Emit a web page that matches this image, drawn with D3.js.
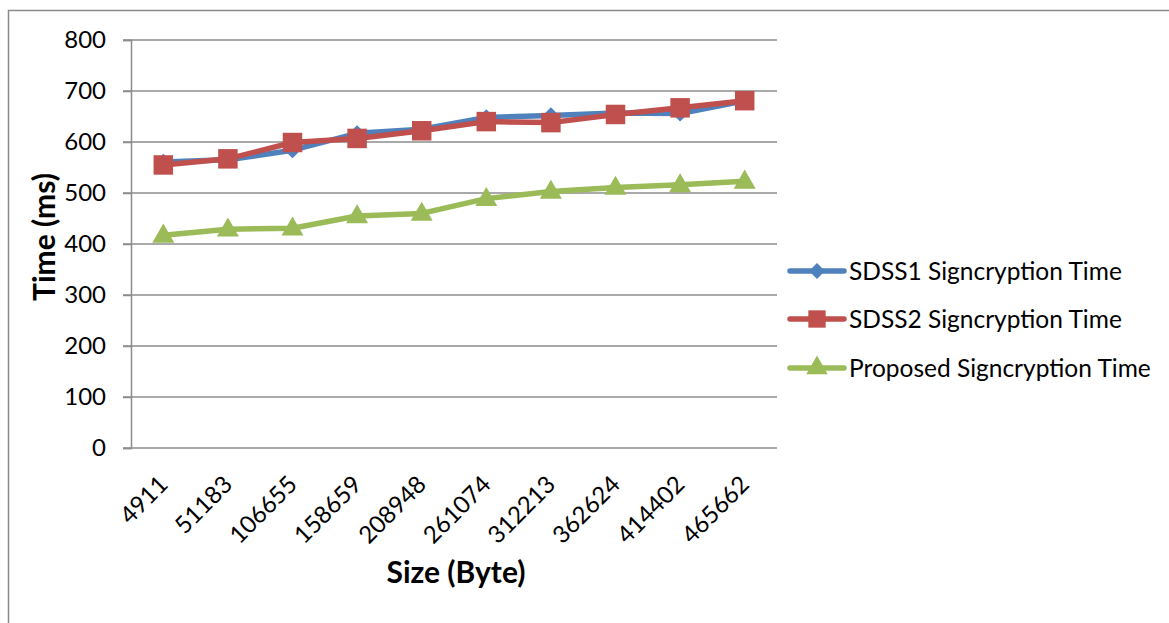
<!DOCTYPE html>
<html>
<head>
<meta charset="utf-8">
<script src="https://cdn.jsdelivr.net/npm/d3@7/dist/d3.min.js"></script>
<style>
  html, body { margin: 0; padding: 0; background: #fff; }
  svg { display: block; }
  text { font-family: Lato, "Open Sans", sans-serif; fill: #000; }
</style>
</head>
<body>
<svg id="chart" width="1169" height="623"></svg>
<script>
// Message sizes (bytes) on the category axis
const sizes = ["4911", "51183", "106655", "158659", "208948", "261074", "312213", "362624", "414402", "465662"];

// Signcryption times in milliseconds
const sdss1 = [561, 565, 584, 617, 625, 648, 652, 657, 656, 681];
const sdss2 = [555, 567, 599, 607, 622, 640, 638, 654, 667, 681];
const proposed = [417, 429, 431, 455, 460, 489, 503, 511, 516, 523];

const seriesNames = ["SDSS1 Signcryption Time", "SDSS2 Signcryption Time", "Proposed Signcryption Time"];
const yTicks = [0, 100, 200, 300, 400, 500, 600, 700, 800];

const series = [
  { name: seriesNames[0], values: sdss1, color: "#4F81BD", marker: "diamond" },
  { name: seriesNames[1], values: sdss2, color: "#C0504D", marker: "square" },
  { name: seriesNames[2], values: proposed, color: "#9BBB59", marker: "triangle" }
];

const svg = d3.select("#chart");
const plot = { left: 131, right: 777, top: 40, bottom: 448 };

// Outer chart frame
svg.append("rect")
  .attr("x", 8.5).attr("y", 10.5)
  .attr("width", 1300).attr("height", 800)
  .attr("fill", "none").attr("stroke", "#8a8a8a").attr("stroke-width", 1.5);

const x = d3.scaleBand().domain(sizes).range([plot.left, plot.right]);
const y = d3.scaleLinear().domain([0, 800]).range([plot.bottom, plot.top]);

// Horizontal gridlines
svg.append("g")
  .selectAll("line")
  .data(yTicks)
  .join("line")
  .attr("x1", plot.left - 8).attr("x2", plot.right)
  .attr("y1", d => y(d)).attr("y2", d => y(d))
  .attr("stroke", "#8c8c8c").attr("stroke-width", 1.5);

// Value axis
const yAxis = svg.append("g")
  .attr("transform", `translate(${plot.left},0)`)
  .call(d3.axisLeft(y).tickValues(yTicks).tickSize(8).tickPadding(17));
yAxis.select(".domain").attr("stroke", "#8c8c8c").attr("stroke-width", 1.5);
yAxis.selectAll(".tick line").attr("stroke", "#8c8c8c").attr("stroke-width", 1.5);
yAxis.selectAll(".tick text")
  .style("font-family", "Lato, 'Open Sans', sans-serif")
  .style("font-size", "24px").attr("fill", "#000");

// Category axis
const xAxis = svg.append("g")
  .attr("transform", `translate(0,${plot.bottom})`)
  .call(d3.axisBottom(x).tickSize(0).tickPadding(0));
xAxis.select(".domain").remove();
xAxis.selectAll(".tick text")
  .style("font-family", "Lato, 'Open Sans', sans-serif")
  .style("font-size", "24px").attr("fill", "#000")
  .attr("text-anchor", "end")
  .attr("dy", null)
  .attr("transform", "translate(6,38) rotate(-45)");

// Axis titles
svg.append("text")
  .attr("x", 456).attr("y", 583)
  .attr("text-anchor", "middle")
  .style("font-size", "30px").style("font-weight", "bold")
  .text("Size (Byte)");

svg.append("text")
  .attr("transform", "translate(55,237) rotate(-90)")
  .attr("text-anchor", "middle")
  .style("font-size", "30px").style("font-weight", "bold")
  .text("Time (ms)");

// Marker symbols
const symbolFor = {
  diamond: d3.symbol().type(d3.symbolDiamond2).size(170),
  square: d3.symbol().type(d3.symbolSquare).size(380),
  triangle: d3.symbol().type(d3.symbolTriangle).size(210)
};

const line = d3.line()
  .x((d, i) => x(sizes[i]) + x.bandwidth() / 2)
  .y(d => y(d));

series.forEach(s => {
  const g = svg.append("g");
  g.append("path")
    .attr("d", line(s.values))
    .attr("fill", "none")
    .attr("stroke", s.color)
    .attr("stroke-width", 5.5)
    .attr("stroke-linejoin", "round");
  g.selectAll("path.marker")
    .data(s.values)
    .join("path")
    .attr("class", "marker")
    .attr("d", symbolFor[s.marker]())
    .attr("transform", (d, i) => `translate(${x(sizes[i]) + x.bandwidth() / 2},${y(d) + (s.marker === "triangle" ? 1 : 0)})`)
    .attr("fill", s.color);
});

// Legend
const legend = svg.append("g");
const legendY = [271, 319, 368];
series.forEach((s, i) => {
  const g = legend.append("g").attr("transform", `translate(790,${legendY[i]})`);
  g.append("line")
    .attr("x1", 0).attr("x2", 54)
    .attr("stroke", s.color).attr("stroke-width", 5.5).attr("stroke-linecap", "round");
  const sym = s.marker === "square" ? d3.symbol().type(d3.symbolSquare).size(300)
            : s.marker === "diamond" ? d3.symbol().type(d3.symbolDiamond2).size(160)
            : d3.symbol().type(d3.symbolTriangle).size(200);
  g.append("path").attr("d", sym()).attr("transform", "translate(27,0)").attr("fill", s.color);
  g.append("text")
    .attr("x", 59).attr("y", 0).attr("dy", "0.36em")
    .style("font-size", "24.5px")
    .text(s.name);
});
</script>
</body>
</html>
